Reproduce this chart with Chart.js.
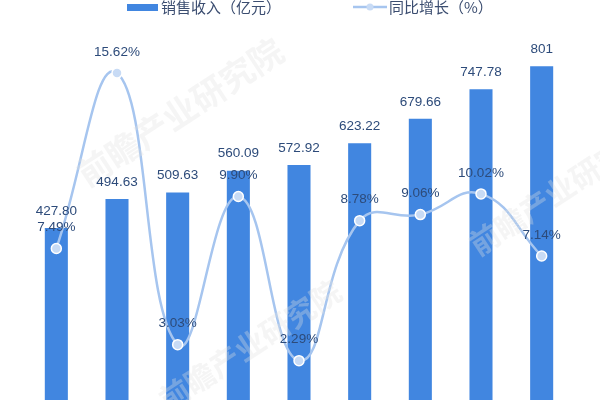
<!DOCTYPE html>
<html>
<head>
<meta charset="utf-8">
<script src="https://cdn.jsdelivr.net/npm/chart.js@4/dist/chart.umd.min.js"></script>
<style>
  html, body { margin: 0; padding: 0; background: #fff; }
  #wrap { width: 600px; height: 400px; overflow: hidden; position: relative; }
  canvas { display: block; }
</style>
</head>
<body>
<div id="wrap"><canvas id="chart-sales" width="600" height="420"></canvas></div>
<script>
// data (x labels are cut off in the original)
var years = ['2011', '2012', '2013', '2014', '2015', '2016', '2017', '2018', '2019'];
var revenue = [427.80, 494.63, 509.63, 560.09, 572.92, 623.22, 679.66, 747.78, 801];
var revenueText = ['427.80', '494.63', '509.63', '560.09', '572.92', '623.22', '679.66', '747.78', '801'];
var growth = [7.49, 15.62, 3.03, 9.90, 2.29, 8.78, 9.06, 10.02, 7.14];

var barColor = '#4186e0';
var lineColor = '#a6c5ef';
var labelColor = '#2d4b7a';
var labelFont = '13.5px "Liberation Sans", Arial, sans-serif';

// faint watermark over the marks
var watermark = {
  id: 'watermark',
  afterDatasetsDraw: function(chart) {
    var ctx = chart.ctx;
    var marks = [[180, 112, 34], [250, 345, 30], [560, 190, 30]];
    ctx.save();
    ctx.fillStyle = 'rgba(225,225,225,0.33)';
    ctx.textAlign = 'center';
    ctx.textBaseline = 'middle';
    marks.forEach(function(m) {
      ctx.save();
      ctx.translate(m[0], m[1]);
      ctx.rotate(-0.58);
      ctx.font = 'bold ' + m[2] + 'px "Noto Sans CJK SC", sans-serif';
      ctx.fillText('前瞻产业研究院', 0, 0);
      ctx.restore();
    });
    ctx.restore();
  }
};

// value labels above bars and points
var valueLabels = {
  id: 'valueLabels',
  afterDatasetsDraw: function(chart) {
    var ctx = chart.ctx;
    ctx.save();
    ctx.font = labelFont;
    ctx.fillStyle = labelColor;
    ctx.textAlign = 'center';
    ctx.textBaseline = 'middle';
    chart.getDatasetMeta(0).data.forEach(function(bar, i) {
      ctx.fillText(revenueText[i], bar.x, bar.y - 17);
    });
    chart.getDatasetMeta(1).data.forEach(function(pt, i) {
      ctx.fillText(growth[i].toFixed(2) + '%', pt.x, pt.y - 21);
    });
    ctx.restore();
  }
};

// legend at the top, half cut off like the original
var topLegend = {
  id: 'topLegend',
  afterDraw: function(chart) {
    var ctx = chart.ctx;
    ctx.save();
    ctx.fillStyle = barColor;
    ctx.fillRect(127, 4, 31, 7);
    ctx.strokeStyle = lineColor;
    ctx.lineWidth = 2.5;
    ctx.beginPath();
    ctx.moveTo(353, 7);
    ctx.lineTo(387, 7);
    ctx.stroke();
    ctx.fillStyle = '#c8dbf5';
    ctx.beginPath();
    ctx.arc(370, 7, 3.5, 0, Math.PI * 2);
    ctx.fill();
    ctx.font = '15px "Noto Sans CJK SC", sans-serif';
    ctx.fillStyle = '#3b4d70';
    ctx.textBaseline = 'middle';
    ctx.fillText('销售收入（亿元）', 161, 7);
    ctx.fillText('同比增长（%）', 389, 7);
    ctx.restore();
  }
};

var chart = new Chart(document.getElementById('chart-sales').getContext('2d'), {
  type: 'bar',
  data: {
    labels: years,
    datasets: [{
      type: 'bar',
      label: '销售收入（亿元）',
      data: revenue,
      backgroundColor: barColor,
      borderWidth: 0,
      categoryPercentage: 1,
      barPercentage: 0.38,
      yAxisID: 'y',
      order: 2
    }, {
      type: 'line',
      label: '同比增长（%）',
      data: growth,
      borderColor: lineColor,
      borderWidth: 2.5,
      tension: 0.45,
      pointRadius: 5,
      pointBackgroundColor: '#c8dbf5',
      pointBorderColor: '#ffffff',
      pointBorderWidth: 1.5,
      yAxisID: 'y1',
      order: 1
    }]
  },
  options: {
    responsive: false,
    animation: false,
    layout: { padding: { top: 25, bottom: 6, left: 26, right: 28 } },
    plugins: {
      legend: { display: false },
      tooltip: { enabled: false }
    },
    scales: {
      x: { display: false, offset: true },
      y: { display: false, min: 0, max: 896 },
      y1: { display: false, position: 'right', min: -0.16, max: 17.85 }
    }
  },
  plugins: [watermark, valueLabels, topLegend]
});
</script>
</body>
</html>
